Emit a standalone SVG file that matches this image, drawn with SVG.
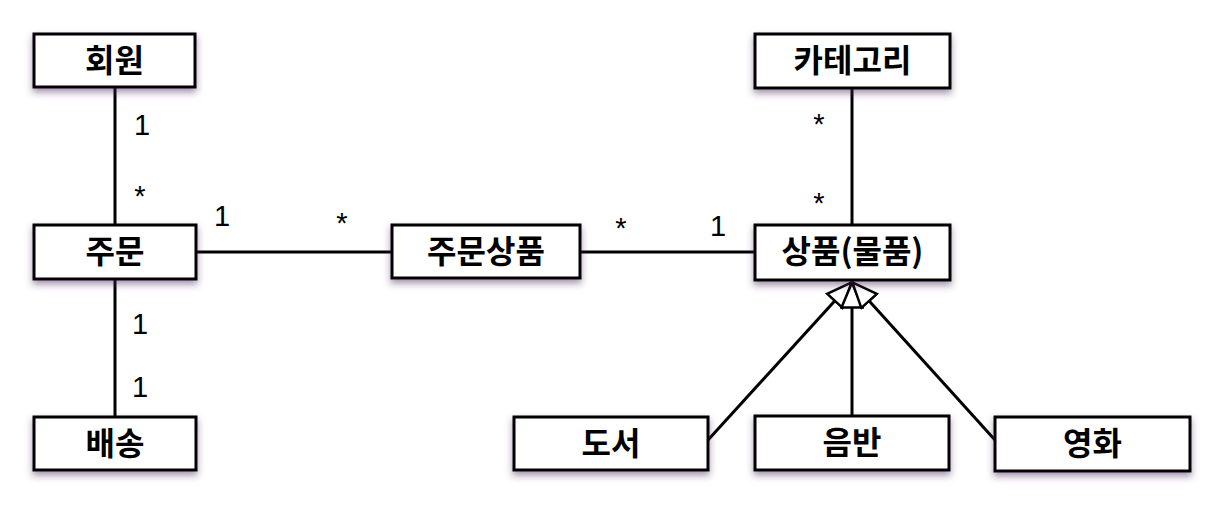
<svg xmlns="http://www.w3.org/2000/svg" width="1210" height="508" viewBox="0 0 1210 508">
<defs>
<filter id="sh" x="-10%" y="-20%" width="120%" height="160%">
<feDropShadow dx="0" dy="4" stdDeviation="3.5" flood-color="#4a2a5a" flood-opacity="0.5"/>
</filter>
<marker id="tri" viewBox="0 0 28 24" refX="27" refY="12" markerWidth="28" markerHeight="24" markerUnits="userSpaceOnUse" orient="auto">
<path d="M1.5,1.5 L26.5,12 L1.5,22.5 Z" fill="#fff" stroke="#000" stroke-width="2.5" stroke-linejoin="miter"/>
</marker>
</defs>
<style>
.box rect{fill:#fff;stroke:#000;stroke-width:3;filter:url(#sh)}
.box text{font-family:"Noto Sans CJK KR","Noto Sans",sans-serif;font-weight:bold;font-size:32px;text-anchor:middle;fill:#000}
.ln{stroke:#000;stroke-width:3;fill:none}
.m{font-family:"Liberation Sans",Arial,sans-serif;font-size:29px;fill:#000;text-anchor:middle}
</style>
<rect width="1210" height="508" fill="#fff"/>
<g id="connectors">
<line class="ln" x1="115" y1="88" x2="115" y2="225"/>
<line class="ln" x1="115" y1="279" x2="115" y2="417"/>
<line class="ln" x1="196" y1="252" x2="392" y2="252"/>
<line class="ln" x1="580" y1="252" x2="755" y2="252"/>
<line class="ln" x1="852" y1="88" x2="852" y2="225"/>
<line class="ln" x1="708" y1="440" x2="852" y2="282" marker-end="url(#tri)"/>
<line class="ln" x1="852" y1="416" x2="852" y2="282" marker-end="url(#tri)"/>
<line class="ln" x1="995" y1="440" x2="852" y2="282" marker-end="url(#tri)"/>
<text class="m" x="142" y="135">1</text>
<text class="m" x="140" y="206">*</text>
<text class="m" x="222" y="226">1</text>
<text class="m" x="342" y="233">*</text>
<text class="m" x="621" y="238">*</text>
<text class="m" x="718" y="236">1</text>
<text class="m" x="819" y="134">*</text>
<text class="m" x="819" y="213">*</text>
<text class="m" x="140" y="334">1</text>
<text class="m" x="140" y="397">1</text>
</g>
<g id="회원" class="box"><rect x="34" y="34" width="161" height="53"/><text x="114.5" y="72">회원</text></g>
<g id="주문" class="box"><rect x="34" y="225" width="162" height="54"/><text x="115" y="263">주문</text></g>
<g id="배송" class="box"><rect x="34" y="417" width="162" height="53"/><text x="115" y="455">배송</text></g>
<g id="주문상품" class="box"><rect x="392" y="225" width="188" height="53"/><text x="486" y="263">주문상품</text></g>
<g id="카테고리" class="box"><rect x="755" y="34" width="195" height="54"/><text x="852.5" y="72">카테고리</text></g>
<g id="상품" class="box"><rect x="755" y="225" width="195" height="55"/><text x="852.5" y="263">상품(물품)</text></g>
<g id="도서" class="box"><rect x="514" y="417" width="194" height="53"/><text x="611" y="455">도서</text></g>
<g id="음반" class="box"><rect x="755" y="416" width="194" height="54"/><text x="852" y="454">음반</text></g>
<g id="영화" class="box"><rect x="995" y="417" width="195" height="54"/><text x="1092.5" y="455">영화</text></g>
</svg>
